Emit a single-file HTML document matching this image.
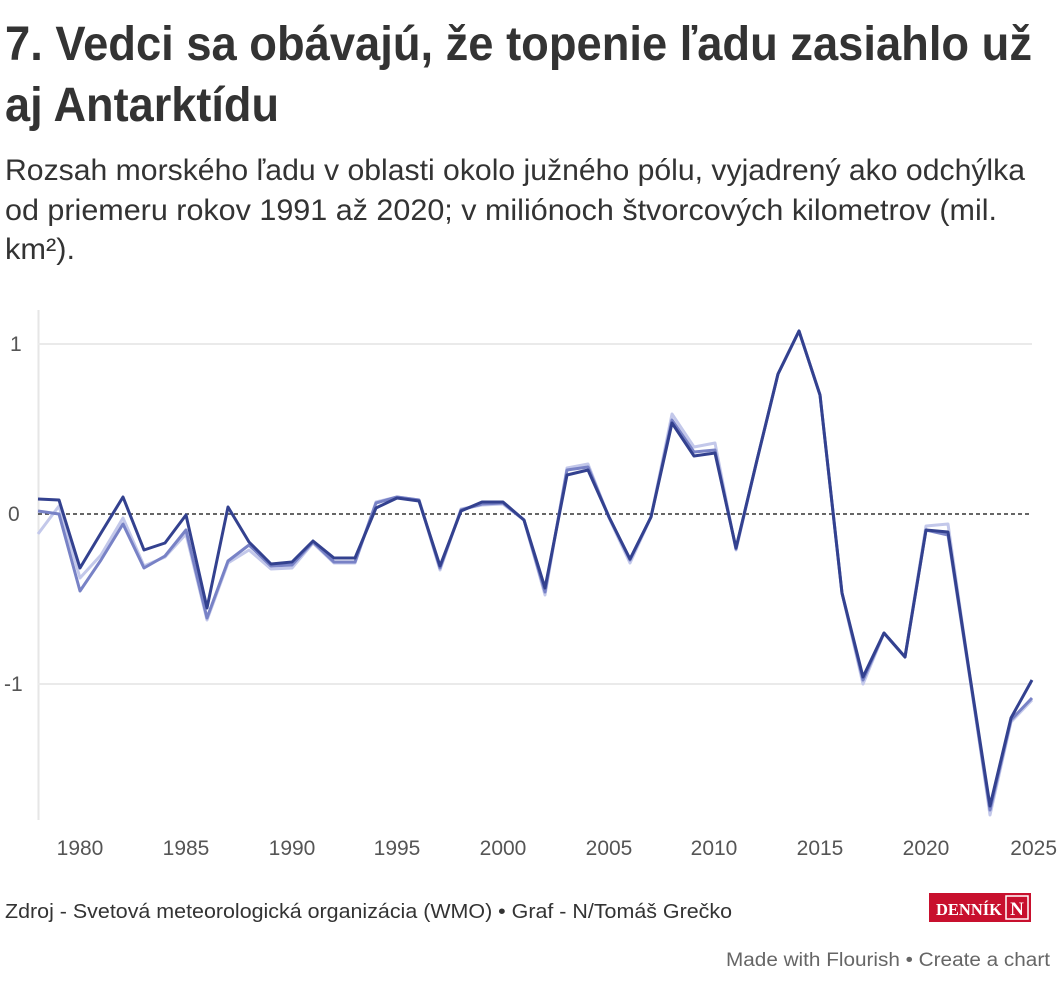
<!DOCTYPE html>
<html><head><meta charset="utf-8"><style>
body{margin:0;background:#fff;}
svg{display:block;font-family:"Liberation Sans",sans-serif;}
</style></head><body>
<svg width="1060" height="987" viewBox="0 0 1060 987">
<text x="5" y="60" font-size="48" font-weight="bold" fill="#333" textLength="1027" lengthAdjust="spacingAndGlyphs">7. Vedci sa obávajú, že topenie ľadu zasiahlo už</text>
<text x="5" y="121" font-size="48" font-weight="bold" fill="#333" textLength="274" lengthAdjust="spacingAndGlyphs">aj Antarktídu</text>
<g font-size="30" fill="#333">
<text x="5" y="180" textLength="1020" lengthAdjust="spacingAndGlyphs">Rozsah morského ľadu v oblasti okolo južného pólu, vyjadrený ako odchýlka</text>
<text x="5" y="220" textLength="992" lengthAdjust="spacingAndGlyphs">od priemeru rokov 1991 až 2020; v miliónoch štvorcových kilometrov (mil.</text>
<text x="5" y="259" textLength="70" lengthAdjust="spacingAndGlyphs">km²).</text>
</g>
<line x1="38.5" y1="310" x2="38.5" y2="820" stroke="#e6e6e6" stroke-width="2"/>
<line x1="38" y1="344" x2="1032" y2="344" stroke="#eaeaea" stroke-width="2"/>
<line x1="38" y1="684" x2="1032" y2="684" stroke="#eaeaea" stroke-width="2"/>
<line x1="38" y1="514" x2="1032" y2="514" stroke="#333" stroke-width="1.5" stroke-dasharray="4,3"/>
<g font-size="21" fill="#555">
<text x="10" y="351">1</text><text x="8" y="521">0</text><text x="4" y="691">-1</text>
</g>
<g font-size="21" fill="#555" text-anchor="middle">
<text x="80" y="855">1980</text><text x="186" y="855">1985</text><text x="292" y="855">1990</text><text x="397" y="855">1995</text><text x="503" y="855">2000</text><text x="609" y="855">2005</text><text x="714" y="855">2010</text><text x="820" y="855">2015</text><text x="926" y="855">2020</text><text x="1057" y="855" text-anchor="end">2025</text>
</g>
<g fill="none" stroke-linejoin="round">
<polyline stroke="#c3c8ea" stroke-width="3" points="38,534 59,506 80,578 101,555 123,518 144,566 165,557 186,534 207,620 228,563 249,550 271,569 292,568 313,543 334,563 355,563 376,502 397,497 419,500 440,570 461,509 482,505 503,504 524,520 545,595 567,468 588,464 609,518 630,563 651,517 672,414 694,447 715,443 736,550 757,460 778,374 799,331 820,395 842,593 863,684 884,633 905,657 926,526 948,524 969,670 990,815 1011,722 1032,700"/>
<polyline stroke="#7882c6" stroke-width="3" points="38,511 59,514 80,591 101,560 123,524 144,568 165,556 186,530 207,618 228,561 249,545 271,566 292,565 313,542 334,562 355,562 376,503 397,497 419,500 440,568 461,510 482,504 503,503 524,520 545,592 567,470 588,467 609,517 630,560 651,517 672,420 694,452 715,450 736,549 757,460 778,374 799,331 820,395 842,593 863,680 884,633 905,657 926,530 948,535 969,672 990,810 1011,720 1032,698"/>
<polyline stroke="#33418f" stroke-width="3" points="38,499 59,500 80,568 101,533 123,497 144,550 165,543 186,515 207,608 228,507 249,542 271,564 292,562 313,541 334,558 355,558 376,508 397,498 419,501 440,566 461,511 482,502 503,502 524,520 545,588 567,475 588,470 609,517 630,559 651,517 672,423 694,456 715,453 736,548 757,460 778,374 799,331 820,395 842,593 863,677 884,633 905,657 926,530 948,532 969,670 990,806 1011,718 1032,680"/>
</g>
<text x="5" y="918" font-size="20" fill="#333" textLength="727" lengthAdjust="spacingAndGlyphs">Zdroj - Svetová meteorologická organizácia (WMO) • Graf - N/Tomáš Grečko</text>
<rect x="929" y="893" width="102" height="29" fill="#c8102e"/>
<text x="936" y="915" font-family="Liberation Serif,serif" font-weight="bold" font-size="17" fill="#fff" textLength="66" lengthAdjust="spacingAndGlyphs">DENNÍK</text>
<rect x="1006" y="896" width="22" height="23" fill="none" stroke="#fff" stroke-width="1.5"/>
<text x="1017" y="915" font-family="Liberation Serif,serif" font-weight="bold" font-size="19" fill="#fff" text-anchor="middle">N</text>
<text x="1050" y="966" font-size="19" fill="#666" text-anchor="end" textLength="324" lengthAdjust="spacingAndGlyphs">Made with Flourish • Create a chart</text>
</svg>
</body></html>
